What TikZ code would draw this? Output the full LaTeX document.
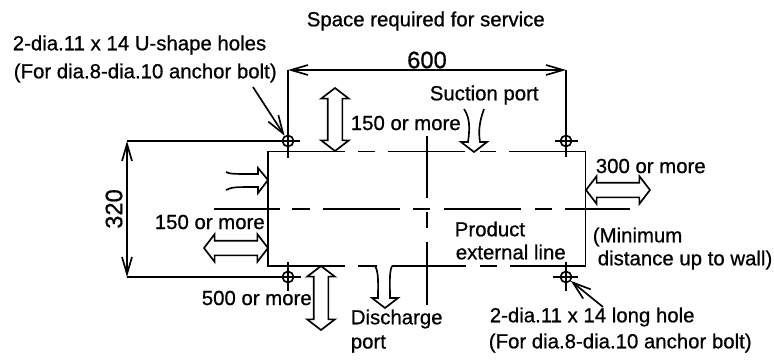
\documentclass[tikz,border=0pt]{standalone}
\usepackage{fontspec}
\setmainfont[FakeBold=0.7]{Liberation Sans}
\usetikzlibrary{arrows.meta,shapes.arrows}
\begin{document}
\begin{tikzpicture}[x=0.02cm, y=-0.02cm, line width=0.95pt]
	\tikzstyle{label}=[inner sep=0, anchor=west, font=\fontsize{11.6}{13}\selectfont]
	\tikzstyle{size}=[inner sep=0, anchor=center, font=\fontsize{13.5}{15}\selectfont]
	\tikzstyle{hole}=[circle, draw=black, inner sep=0, minimum size=2.2mm]
	\tikzstyle{space}=[double arrow, draw=black, fill=white, inner xsep=0, inner ysep=1.3mm, double arrow head extend=1.3mm, double arrow tip angle=105]
	\tikzstyle{barb}=[{Straight Barb[length=3.4mm,width=2mm]}-{Straight Barb[length=3.4mm,width=2mm]}]
	\tikzstyle{leader}=[-{Straight Barb[length=3.6mm,width=2.4mm]}]
	\useasboundingbox (0,0) rectangle (774,359);
	% Product external line
	\draw (345,151.5) -- (268,151.5) -- (268,266) -- (345,266);
	\draw (509,151.5) -- (585.5,151.5) -- (585.5,266) -- (510,266);
	\foreach \a/\b in {358/375,388/465,480/496}
		\draw (\a,151.5) -- (\b,151.5);
	\foreach \a/\b in {358/377,392/466,480/497}
		\draw (\a,266) -- (\b,266);
	% Center lines
	\foreach \a/\b in {214/280,292/310,323/400,413/430,444/521,535/552,565/630}
		\draw (\a,209) -- (\b,209);
	\foreach \a/\b in {136/198,212/228,242/305}
		\draw (427,\a) -- (427,\b);
	% Holes
	\foreach \i/\x/\y in {1/288/141,2/566/141,3/288/277,4/566/277}
		\node at (\x,\y) [hole] (hole_\i) {};
	\foreach \i/\x/\y in {1/288/70,2/566/70,3/288/291,4/566/291}
		\coordinate (down_\i) at (\x,\y);
	\coordinate (up_1) at (288,158);
	\coordinate (up_2) at (566,157);
	\coordinate (up_3) at (288,262);
	\coordinate (up_4) at (566,262);
	\foreach \i in {1,...,4}
		\draw (down_\i) -- (up_\i);
	\coordinate (dim_1) at (127,141);
	\coordinate (dim_2) at (127,277);
	\coordinate (end_1) at (300,141);
	\coordinate (end_2) at (301,277);
	\draw (dim_1) -- (end_1);
	\draw (dim_2) -- (end_2);
	\draw (555,141) -- (578,141);
	\draw (553,277) -- (578,277);
	% Dimensions
	\draw[barb] (down_1) to (down_2);
	\draw[barb] (dim_1) to (dim_2);
	\node at (427,60) [size] (width) {600};
	\node at (114,209) [size, rotate=90] (height) {320};
	% Leaders
	\coordinate (from_1) at (253,87);
	\coordinate (from_2) at (603,307);
	\draw[leader] (from_1) to (hole_1);
	\draw[leader] (from_2) to (hole_4);
	% Space arrows
	\node at (335,119.5) [space, rotate=90, minimum height=12.6mm] (top) {};
	\node at (321,298) [space, rotate=90, minimum height=12.8mm] (bottom) {};
	\node at (236,248) [space, minimum height=12.8mm] (left) {};
	\node at (618,190) [space, minimum height=12.8mm] (right) {};
	% Ports
	\draw (464,109) .. controls (470,118) and (470,128) .. (468,142) -- (461,142) -- (474,152) -- (487,142) -- (480,142) .. controls (478,130) and (480,120) .. (484,109);
	\draw (226,172) .. controls (230,174) and (232,174) .. (258,174) -- (258,168) -- (268,180) -- (258,193) -- (258,187) .. controls (235,187) and (232,187) .. (226,190);
	\draw (375,266) .. controls (379,272) and (378,285) .. (378,298) -- (372,298) -- (385,308) -- (398,298) -- (390,298) .. controls (390,285) and (389,272) .. (392,266);
	% Labels
	\node at (306,21) [label] (service) {Space required for service};
	\node at (12,45) [label] (ushape) {2-dia.11 x 14 U-shape holes};
	\node at (13,73) [label] (ubolt) {(For dia.8-dia.10 anchor bolt)};
	\node at (429,95) [label] (suction) {Suction port};
	\node at (350,123) [label] (toproom) {150 or more};
	\node at (595,166) [label] (rightroom) {300 or more};
	\node at (154,222) [label] (leftroom) {150 or more};
	\node at (201,298) [label] (bottomroom) {500 or more};
	\node at (350,319) [label] (discharge) {Discharge};
	\node at (350,344) [label] (port) {port};
	\node at (454,229) [label] (product) {Product};
	\node at (455,252) [label] (external) {external line};
	\node at (592,237) [label] (minimum) {(Minimum};
	\node at (597,260) [label] (distance) {distance up to wall)};
	\node at (489,317) [label] (longhole) {2-dia.11 x 14 long hole};
	\node at (488,343) [label] (lbolt) {(For dia.8-dia.10 anchor bolt)};
\end{tikzpicture}
\end{document}
